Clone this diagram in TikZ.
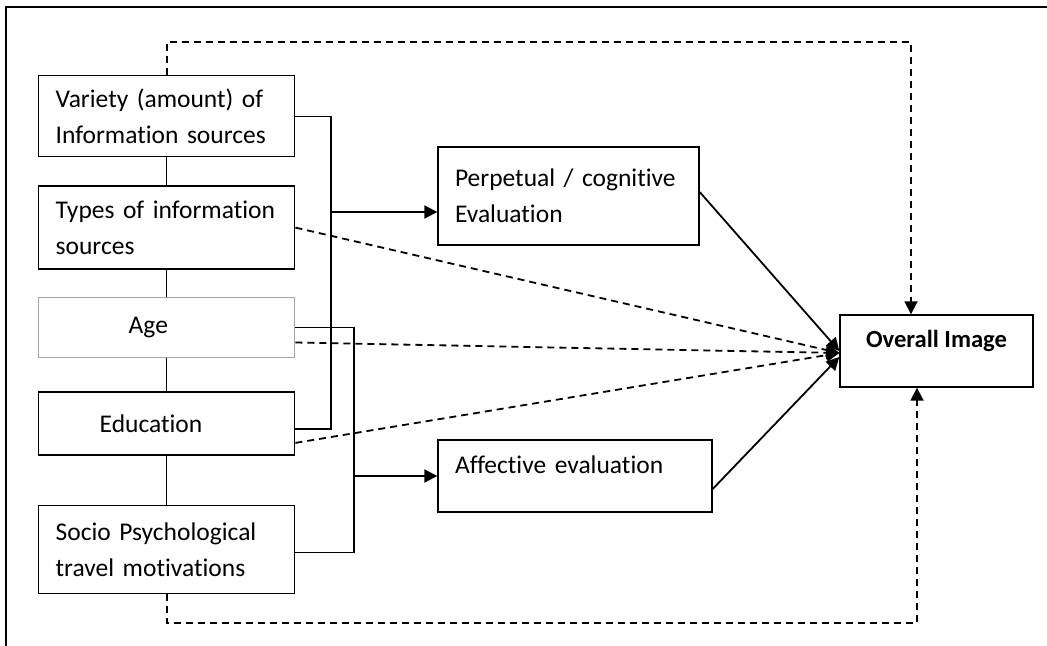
\documentclass[tikz,border=0pt]{standalone}
\usepackage{fontspec}
\setmainfont{Carlito}[Ligatures=CommonOff]
\usetikzlibrary{positioning,arrows.meta}
\begin{document}
\begin{tikzpicture}[x=0.5pt, y=-0.5pt, >={Triangle[length=6.5pt,width=6.5pt]},
    box/.style = {draw, line width=0.7pt, align=left, inner xsep=8.5pt, inner ysep=2pt, font=\fontsize{12.75}{18}\selectfont},
    src/.style = {box, text width=111pt},
    link/.style = {line width=0.6pt},
    feed/.style = {line width=1pt, ->},
    dlink/.style = {line width=0.9pt, dash pattern=on 3.5pt off 2.5pt, ->}]
    \useasboundingbox (0,0) rectangle (1047,646);
    \draw[line width=1pt] (6,646) -- (6,7) -- (1047,7);
    \node[src, minimum height=40.5pt, anchor=north west] (var) at (38,75) {Variety (amount) of\\Information sources};
    \node[src, minimum height=41.5pt] (types) [below=14pt of var] {Types of information\\sources};
    \node[src, minimum height=30pt, draw=gray!70] (age) [below=13.5pt of types] {\hspace*{36.5pt}Age};
    \node[src, minimum height=31.5pt] (edu) [below=16.5pt of age] {\hspace*{22pt}Education};
    \node[src, minimum height=44pt] (socio) [below=24.5pt of edu] {Socio Psychological\\travel motivations};
    \node[box, text width=113.5pt, minimum height=49pt] (perp) at (568.5,196) {Perpetual / cognitive\\Evaluation};
    \node[box, text width=120pt, minimum height=36pt, text depth=11pt] (aff) at (575,476) {Affective evaluation};
    \node[box, minimum width=96.5pt, minimum height=36pt, align=center, text depth=12.5pt, font=\fontsize{12.3}{18}\selectfont\bfseries] (all) at (936.5,351) {Overall Image};
    \coordinate (j1) at (331,212);
    \coordinate (j2) at (354,476);
    \coordinate (tc) at (911,42);
    \coordinate (bc) at (917,623);
    \draw[link] (var) -- (types) (types) -- (age) (age) -- (edu) (edu) -- (socio);
    \draw[link] (var.east) -| (j1) |- ([yshift=-2.75pt]edu.east);
    \draw[link] (age.east) -| (j2) |- ([yshift=-1.5pt]socio.east);
    \draw[feed] (j1) -- (j1 -| perp.west);
    \draw[feed] (j2) -- (j2 -| aff.west);
    \draw[feed, line width=0.9pt] ([yshift=2pt]perp.east) -- (all.west);
    \draw[feed, line width=0.9pt] ([yshift=-6.5pt]aff.east) -- ([yshift=-3pt]all.west);
    \draw[dlink] (types.east) -- ([yshift=-1pt]all.west);
    \draw[dlink] ([yshift=-7.5pt]age.east) -- ([yshift=-1pt]all.west);
    \draw[dlink] ([yshift=-9.75pt]edu.east) -- ([yshift=-1pt]all.west);
    \draw[dlink] (var) |- (tc) -- (tc |- all.north);
    \draw[dlink] (socio) |- (bc) -- (bc |- all.south);
\end{tikzpicture}
\end{document}
